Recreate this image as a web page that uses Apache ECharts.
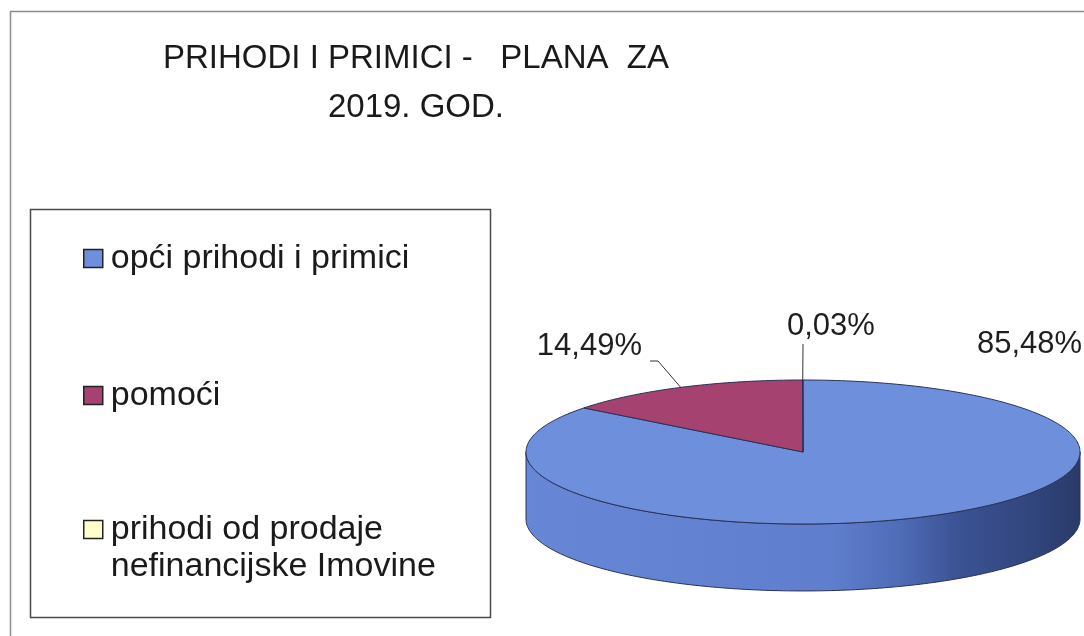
<!DOCTYPE html>
<html><head><meta charset="utf-8">
<script src="https://cdn.jsdelivr.net/npm/echarts@6/dist/echarts.min.js"></script>
<style>html,body{margin:0;padding:0;background:#fff}#c{width:1084px;height:636px}</style>
</head><body><div id="c"></div>
<script>
// ---- data ----
const categories = ['opći prihodi i primici', 'pomoći', 'prihodi od prodaje\nnefinancijske Imovine'];
const shares = [85.48, 14.49, 0.03];
const titleText = 'PRIHODI I PRIMICI -   PLANA  ZA\n2019. GOD.';

// ---- style ----
const FONT = '"Liberation Sans", Arial, Helvetica, sans-serif';
const topColors = ['#6e8fdc', '#a5426f', '#ffffcc'];
const edgeColor = '#2b3158';
const DEPTH = 0.93;               // wall height in y-axis units
const labelStyle = [
  { x: 977, y: 344, align: 'left', lead: null },
  { x: 642, y: 346, align: 'right', lead: [[650, 361], [658, 361]] },
  { x: 787, y: 326, align: 'left', lead: [[803, 344]] }
];

const total = shares.reduce((a, b) => a + b, 0);
const starts = [];
{ let acc = 0; shares.forEach(v => { starts.push(acc / total * 360); acc += v; }); }

function P(api, deg, dz) {
  const r = deg * Math.PI / 180;
  return api.coord([Math.sin(r), Math.cos(r) - (dz || 0)]);
}

function wallGradient() {
  return new echarts.graphic.LinearGradient(0, 0, 1, 0, [
    { offset: 0, color: '#6787d6' },
    { offset: 0.55, color: '#5f7ecd' },
    { offset: 0.68, color: '#4e6bb6' },
    { offset: 0.78, color: '#3b5293' },
    { offset: 0.92, color: '#31457c' },
    { offset: 1, color: '#2a3a68' }
  ]);
}

function makeRender(i) {
  return function (params, api) {
    const a0 = starts[i];
    const a1 = starts[i] + shares[i] / total * 360;
    const children = [];
    // front wall
    const lo = Math.max(a0, 90), hi = Math.min(a1, 270);
    if (hi > lo) {
      const pts = [];
      const n = Math.max(2, Math.ceil(hi - lo));
      for (let k = 0; k <= n; k++) pts.push(P(api, lo + (hi - lo) * k / n, 0));
      for (let k = n; k >= 0; k--) pts.push(P(api, lo + (hi - lo) * k / n, DEPTH));
      children.push({ type: 'polygon', z2: 1, shape: { points: pts },
        style: { fill: wallGradient(), stroke: edgeColor, lineWidth: 1 } });
    }
    // top sector
    const tp = [api.coord([0, 0])];
    const m = Math.max(2, Math.ceil(a1 - a0));
    for (let k = 0; k <= m; k++) tp.push(P(api, a0 + (a1 - a0) * k / m, 0));
    children.push({ type: 'polygon', z2: 5, shape: { points: tp },
      style: { fill: topColors[i], stroke: edgeColor, lineWidth: 1, lineJoin: 'round' } });
    // label
    const ls = labelStyle[i];
    const txt = (shares[i] / total * 100).toFixed(2).replace('.', ',') + '%';
    children.push({ type: 'text', z2: 10, x: ls.x, y: ls.y,
      style: { text: txt, fontSize: 31, fontFamily: FONT, fill: '#1e1e1e',
               align: ls.align, verticalAlign: 'middle' } });
    if (ls.lead) {
      const mid = P(api, (a0 + a1) / 2, 0);
      children.push({ type: 'polyline', z2: 9, shape: { points: ls.lead.concat([mid]) },
        style: { stroke: '#333', lineWidth: 1, fill: null } });
    }
    return { type: 'group', children };
  };
}

const chart = echarts.init(document.getElementById('c'), null, { renderer: 'canvas' });
chart.setOption({
  animation: false,
  backgroundColor: '#ffffff',
  title: {
    text: titleText, left: 416, top: 34, padding: 0, textAlign: 'center',
    textStyle: { fontSize: 33, fontWeight: 'normal', lineHeight: 49, fontFamily: FONT, color: '#1a1a1a' }
  },
  graphic: [
    { type: 'rect', silent: true, z: -1, shape: { x: 10.5, y: 11.5, width: 1200, height: 800 },
      style: { fill: null, stroke: '#8c8c8c', lineWidth: 1.5 } },
    { type: 'rect', silent: true, z: -1, shape: { x: 30.5, y: 209.5, width: 460, height: 408 },
      style: { fill: null, stroke: '#4a4a4a', lineWidth: 1.5 } }
  ],
  legend: {
    orient: 'vertical', left: 83, top: 200, padding: 0, itemGap: 60,
    itemWidth: 19, itemHeight: 18, icon: 'rect', selectedMode: false,
    itemStyle: { borderColor: '#222', borderWidth: 1.5 },
    textStyle: { fontSize: 34, lineHeight: 37, fontFamily: FONT, color: '#1a1a1a', padding: [0, 0, 0, 3] },
    formatter: name => (name.indexOf('\n') >= 0 ? '\n' + name : name),
    data: categories.map((c, i) => ({
      name: c,
      textStyle: i === 0 ? { padding: [40, 0, 40, 3] } : {}
    }))
  },
  grid: { left: 526, width: 554, top: 380, height: 144 },
  xAxis: { type: 'value', min: -1, max: 1, show: false },
  yAxis: { type: 'value', min: -1, max: 1, show: false },
  series: categories.map((c, i) => ({
    type: 'custom', name: c, coordinateSystem: 'cartesian2d', clip: false, silent: true,
    itemStyle: { color: topColors[i] },
    data: [[0, 0, shares[i]]],
    renderItem: makeRender(i)
  }))
});
</script>
</body></html>
